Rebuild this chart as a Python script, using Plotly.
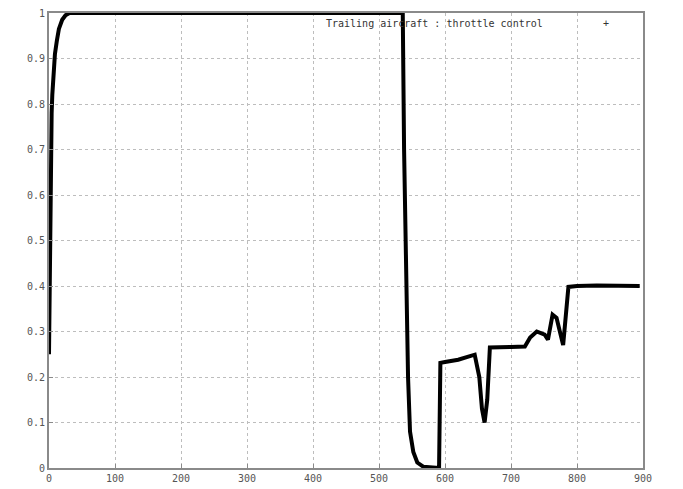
import plotly.graph_objects as go

# time (x) and throttle control (y)
time = [0, 0.5, 1, 1.5, 2, 3, 4, 5, 7, 9, 12, 15, 20, 25, 31,
        536, 538, 541, 544, 547, 552, 558, 567, 591, 592, 593,
        600, 620, 645, 652, 656, 660, 664, 666, 668, 700, 721,
        729, 739, 751, 756, 763, 769, 779, 783, 787, 800, 830, 895]
throttle = [0.25, 0.35, 0.45, 0.55, 0.63, 0.72, 0.78, 0.82, 0.87, 0.91, 0.94, 0.965, 0.985, 0.995, 1.0,
            1.0, 0.7, 0.4, 0.2, 0.08, 0.035, 0.012, 0.003, 0.0, 0.12, 0.231,
            0.233, 0.238, 0.249, 0.2, 0.13, 0.10, 0.15, 0.24, 0.265, 0.266, 0.267,
            0.287, 0.30, 0.293, 0.282, 0.337, 0.33, 0.27, 0.33, 0.398, 0.40, 0.401, 0.40]

x_ticks = [0, 100, 200, 300, 400, 500, 600, 700, 800, 900]
y_ticks = [0, 0.1, 0.2, 0.3, 0.4, 0.5, 0.6, 0.7, 0.8, 0.9, 1]
y_tick_labels = ["0", "0.1", "0.2", "0.3", "0.4", "0.5", "0.6", "0.7", "0.8", "0.9", "1"]
legend_label = "Trailing aircraft : throttle control"

font_mono = "DejaVu Sans Mono, Liberation Mono, monospace"
text_col = "#555555"

fig = go.Figure()
fig.add_trace(go.Scatter(
    x=time, y=throttle, mode="lines",
    line=dict(color="black", width=4),
    name=legend_label, showlegend=False,
))

axis_common = dict(
    showgrid=True, gridcolor="#bdbdbd", griddash="dot", gridwidth=1,
    showline=True, linecolor="#8a8a8a", linewidth=2, mirror=True,
    ticks="inside", ticklen=4, tickcolor="#8a8a8a",
    zeroline=False, automargin=False, ticklabeloverflow="allow",
    tickfont=dict(family=font_mono, size=10, color=text_col),
)

fig.update_xaxes(range=[0, 900], tickvals=x_ticks, **axis_common)
fig.update_yaxes(range=[0, 1], tickvals=y_ticks, ticktext=y_tick_labels, **axis_common)

fig.add_annotation(
    x=0.835, y=0.978, xref="paper", yref="paper",
    text=legend_label, showarrow=False, xanchor="right", yanchor="middle",
    font=dict(family=font_mono, size=10, color="#333333"),
)
fig.add_annotation(
    x=0.937, y=0.978, xref="paper", yref="paper",
    text="+", showarrow=False, xanchor="center", yanchor="middle",
    font=dict(family=font_mono, size=10, color="#333333"),
)

# the page body adds an 8px offset, so the figure is sized to fit the window
fig.update_layout(
    width=675, height=481,
    margin=dict(l=41, r=40, t=5, b=21),
    plot_bgcolor="white", paper_bgcolor="white",
    showlegend=False,
)

fig.write_html("out.html")
